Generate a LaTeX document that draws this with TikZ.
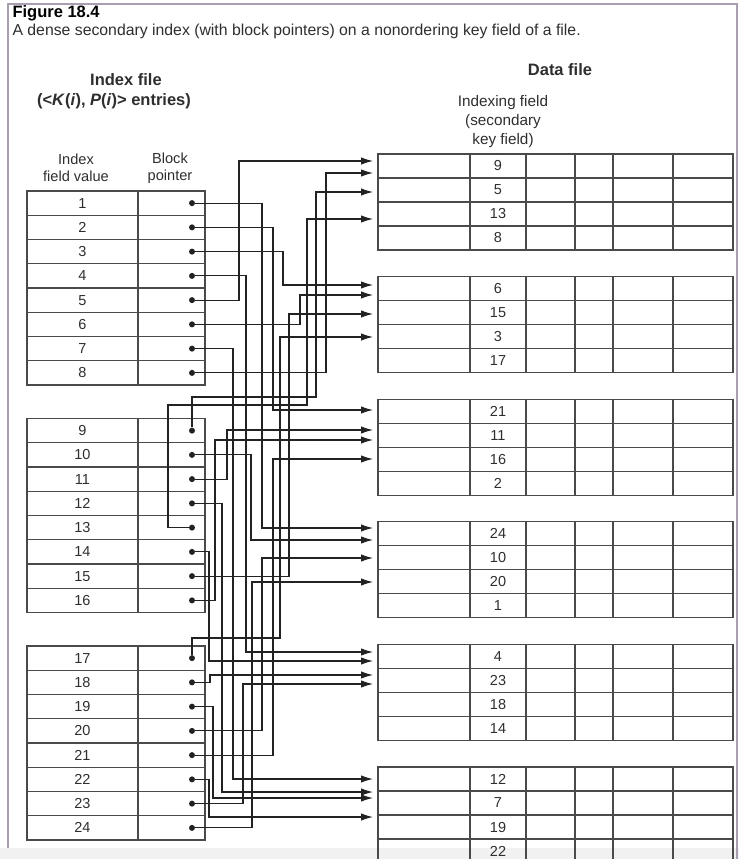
\documentclass[tikz,border=0pt]{standalone}
\usepackage{fontspec}
\setmainfont{Liberation Sans}
\usetikzlibrary{arrows.meta, calc}

\definecolor{framegray}{HTML}{A99DB0}
\definecolor{linegray}{HTML}{4A4A4A}
\definecolor{inkgray}{HTML}{222222}
\definecolor{txtgray}{HTML}{2E2E2E}
\definecolor{bandgray}{HTML}{F1F1F1}

\begin{document}
\begin{tikzpicture}[x=1pt, y=-1pt, font=\fontsize{14.5}{17}\selectfont, text=txtgray]
\tikzstyle{valcell} = [draw=linegray, line width=1.1pt, minimum width=111pt, minimum height=24.25pt, inner sep=0pt, outer sep=0pt, anchor=north west]
\tikzstyle{ptrcell} = [valcell, minimum width=67pt]
\tikzstyle{blkbox} = [draw=linegray, line width=1.1pt, minimum width=355pt, minimum height=96pt, inner sep=0pt, outer sep=0pt, anchor=north west]
\tikzstyle{keycell} = [inner sep=0pt, anchor=center]
\tikzstyle{dot} = [circle, fill=inkgray, inner sep=0pt, minimum size=6pt]
\tikzstyle{ptr} = [draw=inkgray, line width=1.2pt, -{Latex[length=12pt, width=7.5pt]}, shorten >=5pt]
\tikzstyle{head} = [font=\bfseries\fontsize{16.5}{18}\selectfont, align=center]
\tikzstyle{colhead} = [align=center, font=\fontsize{14.6}{17}\selectfont]

\path[use as bounding box, clip] (0,0) rectangle (739,859);
\fill[bandgray] (0,848) rectangle (739,859);
\draw[framegray, line width=1.6pt] (8,848) -- (8,4) -- (737,4) -- (737,859);

% caption
\node[anchor=west, font=\bfseries\fontsize{16.5}{18}\selectfont, text=black] (fig) at (9,13) {Figure 18.4};
\node[anchor=west, font=\fontsize{15.8}{17}\selectfont] (cap) at (9,31) {A dense secondary index (with block pointers) on a nonordering key field of a file.};

% headings
\node[head] (ihead) at (126,80) {Index file};
\node[head] (ient) at (114,101) {(<\textit{K}(\textit{i}), \textit{P}(\textit{i})> entries)};
\node[head] (dhead) at (560,70) {Data file};
\node[colhead, font=\fontsize{15.3}{19}\selectfont] (kfield) at (503,122) {Indexing field\\(secondary\\key field)};
\node[colhead] (vhead) at (76,168) {Index\\field value};
\node[colhead] (phead) at (170,168) {Block\\pointer};

% index file
\foreach \g in {0,1,2}
  \foreach \r in {1,...,8} {
    \pgfmathtruncatemacro{\k}{8*\g+\r}
    \pgfmathsetmacro{\yt}{191+227.5*\g+24.25*(\r-1)}
    \node[valcell] (v\k) at (27,\yt) {\k};
    \node[ptrcell] (p\k) at (138,\yt) {};
    \node[dot] (q\k) at (192,\yt+12.125) {};
  }

% data file
\foreach \b/\keys in {1/{9,5,13,8}, 2/{6,15,3,17}, 3/{21,11,16,2}, 4/{24,10,20,1}, 5/{4,23,18,14}, 6/{12,7,19,22}} {
  \pgfmathsetmacro{\yt}{154+122.6*(\b-1)}
  \node[blkbox] (blk\b) at (378,\yt) {};
  \foreach \c in {470,526,575,613,673}
    \draw[linegray, line width=1.1pt] (\c,\yt) -- (\c,\yt+96);
  \foreach \kk [count=\j] in \keys {
    \ifnum\j>1 \draw[linegray, line width=1.1pt] (378,\yt+24*\j-24) -- (733,\yt+24*\j-24); \fi
    \node[keycell] (d\kk) at (498,\yt+24*\j-12) {\kk};
  }
}

% block pointers
\draw[ptr] (q1) -| (262,528) -- (blk4.west |- 0,528);
\draw[ptr] (q2) -| (273,410) -- (blk3.west |- 0,410);
\draw[ptr] (q3) -| (283,285) -- (blk2.west |- 0,285);
\draw[ptr] (q4) -| (246,652) -- (blk5.west |- 0,652);
\draw[ptr] (q5) -| (239,161) -- (blk1.west |- 0,161);
\draw[ptr] (q6) -| (300,295) -- (blk2.west |- 0,295);
\draw[ptr] (q7) -| (233,779) -- (blk6.west |- 0,779);
\draw[ptr] (q8) -| (326,173) -- (blk1.west |- 0,173);
\draw[ptr] (q9) |- (316,397) |- (blk1.west |- 0,192);
\draw[ptr] (q10) -| (251,540) -- (blk4.west |- 0,540);
\draw[ptr] (q11) -| (227,430) -- (blk3.west |- 0,430);
\draw[ptr] (q12) -| (222,792) -- (blk6.west |- 0,792);
\draw[ptr] (q13) -| (168,405) -| (307,219) -- (blk1.west |- 0,219);
\draw[ptr] (q14) -| (209,661) -- (blk5.west |- 0,661);
\draw[ptr] (q15) -| (289,314) -- (blk2.west |- 0,314);
\draw[ptr] (q16) -| (215,440) -- (blk3.west |- 0,440);
\draw[ptr] (q17) |- (280,638) |- (blk2.west |- 0,337);
\draw[ptr] (q18) -| (210,675) -- (blk5.west |- 0,675);
\draw[ptr] (q19) -| (213,798) -- (blk6.west |- 0,798);
\draw[ptr] (q20) -| (262,558) -- (blk4.west |- 0,558);
\draw[ptr] (q21) -| (273,459) -- (blk3.west |- 0,459);
\draw[ptr] (q22) -| (209,817) -- (blk6.west |- 0,817);
\draw[ptr] (q23) -| (243,684) -- (blk5.west |- 0,684);
\draw[ptr] (q24) -| (252,582) -- (blk4.west |- 0,582);
\end{tikzpicture}
\end{document}
